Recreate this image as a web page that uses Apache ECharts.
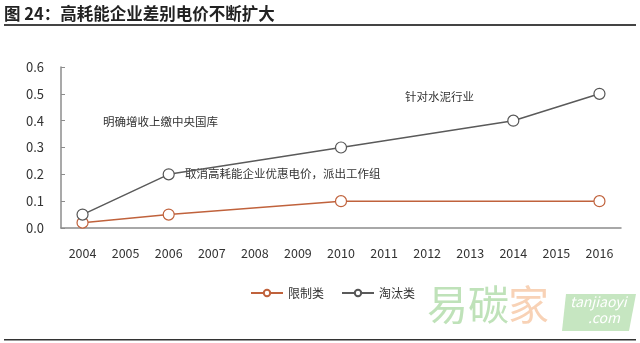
<!DOCTYPE html>
<html>
<head>
<meta charset="utf-8">
<script src="https://cdn.jsdelivr.net/npm/echarts@6/dist/echarts.min.js"></script>
<style>
  html, body { margin: 0; padding: 0; background: #fff; }
  #chart { width: 640px; height: 343px; }
</style>
</head>
<body>
<div id="chart"></div>
<script>
// Years on the category axis
const years = ['2004', '2005', '2006', '2007', '2008', '2009', '2010', '2011', '2012', '2013', '2014', '2015', '2016'];
// Surcharge per kWh (yuan) for restricted-class enterprises
const restricted = [0.02, null, 0.05, null, null, null, 0.1, null, null, null, null, null, 0.1];
// Surcharge per kWh (yuan) for eliminated-class enterprises
const eliminated = [0.05, null, 0.2, null, null, null, 0.3, null, null, null, 0.4, null, 0.5];
// Y-axis ticks
const yTicks = [0, 0.1, 0.2, 0.3, 0.4, 0.5, 0.6];

const FONT = '"Noto Sans CJK SC", "Noto Sans", sans-serif';
const chart = echarts.init(document.getElementById('chart'));

chart.setOption({
  backgroundColor: '#fff',
  animation: false,
  textStyle: { fontFamily: FONT },
  grid: { left: 61, right: 19, top: 67, bottom: 115 },
  legend: {
    bottom: 39,
    left: 245,
    itemWidth: 32,
    itemHeight: 8,
    itemGap: 17,
    textStyle: { color: '#333', fontSize: 12, fontFamily: FONT },
    data: ['限制类', '淘汰类']
  },
  xAxis: {
    type: 'category',
    data: years,
    boundaryGap: true,
    axisLine: { lineStyle: { color: '#8c8c8c', width: 1.5 } },
    axisTick: { show: false },
    axisLabel: { color: '#333', fontSize: 12.5, margin: 19, fontFamily: FONT }
  },
  yAxis: {
    type: 'value',
    min: yTicks[0],
    max: yTicks[yTicks.length - 1],
    interval: 0.1,
    splitLine: { show: false },
    axisLine: { show: true, lineStyle: { color: '#8c8c8c', width: 1.5 } },
    axisTick: { show: true, inside: true, length: 4, lineStyle: { color: '#8c8c8c' } },
    axisLabel: {
      color: '#333', fontSize: 13, margin: 17, fontFamily: FONT,
      formatter: v => v.toFixed(1)
    }
  },
  series: [
    {
      name: '限制类',
      type: 'line',
      data: restricted,
      connectNulls: true,
      symbol: 'circle',
      symbolSize: 11,
      z: 3,
      lineStyle: { color: '#c0623c', width: 1.5 },
      itemStyle: { color: '#fff', borderColor: '#c0623c', borderWidth: 1.2 }
    },
    {
      name: '淘汰类',
      type: 'line',
      data: eliminated,
      connectNulls: true,
      symbol: 'circle',
      symbolSize: 11,
      z: 4,
      lineStyle: { color: '#5a5a5a', width: 1.5 },
      itemStyle: { color: '#fff', borderColor: '#555', borderWidth: 1.2 }
    }
  ],
  graphic: [
    // Title and rules
    {
      type: 'text', left: 4, top: 5,
      style: { text: '图 24：高耗能企业差别电价不断扩大', fill: '#222', font: 'bold 16.5px ' + FONT }
    },
    { type: 'rect', shape: { x: 4, y: 24, width: 632, height: 2 }, style: { fill: '#444' } },
    { type: 'rect', shape: { x: 4, y: 339, width: 632, height: 1.5 }, style: { fill: '#333' } },
    // Policy annotations
    {
      type: 'text', left: 103, top: 116,
      style: { text: '明确增收上缴中央国库', fill: '#333', font: '11.5px ' + FONT }
    },
    {
      type: 'text', left: 185, top: 168,
      style: { text: '取消高耗能企业优惠电价，派出工作组', fill: '#333', font: '11.5px ' + FONT }
    },
    {
      type: 'text', left: 405, top: 91,
      style: { text: '针对水泥行业', fill: '#333', font: '11.5px ' + FONT }
    },
    // Site mark
    {
      type: 'text', left: 427, top: 284,
      style: { text: '易碳', fill: '#bfe2b9', font: '41px ' + FONT }
    },
    {
      type: 'text', left: 508, top: 284,
      style: { text: '家', fill: '#f8d2b6', font: '41px ' + FONT }
    },
    {
      type: 'polygon',
      shape: { points: [[566, 294], [636, 294], [629, 331], [562, 331]] },
      style: { fill: '#c6e6c1' }
    },
    {
      type: 'text', left: 570, top: 295,
      style: { text: 'tanjiaoyi', fill: '#fff', font: 'italic 14px ' + FONT }
    },
    {
      type: 'text', left: 588, top: 311,
      style: { text: '.com', fill: '#fff', font: 'italic 14px ' + FONT }
    }
  ]
});
</script>
</body>
</html>
